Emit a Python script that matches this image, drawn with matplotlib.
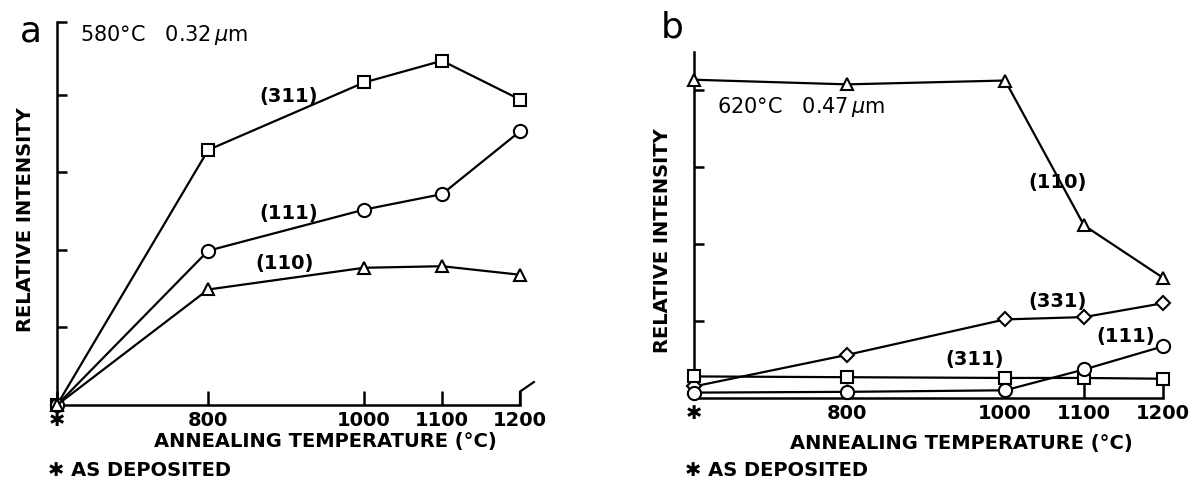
import matplotlib
matplotlib.use("Agg")
import matplotlib.pyplot as plt
from matplotlib.lines import Line2D

plt.rcParams['font.family'] = ['DejaVu Sans']

# ---- data ----
AD = 606  # position used for "as deposited"
temps = [AD, 800, 1000, 1100, 1200]
xtick_labels = ['\u2731', '800', '1000', '1100', '1200']

# panel a (580°C, 0.32 µm)
a_311 = [0, 3.29, 4.16, 4.44, 3.94]
a_111 = [0, 1.99, 2.52, 2.72, 3.53]
a_110 = [0, 1.49, 1.77, 1.79, 1.68]

# panel b (620°C, 0.47 µm)
b_110 = [4.13, 4.07, 4.12, 2.24, 1.56]
b_331 = [0.15, 0.56, 1.02, 1.05, 1.23]
b_311 = [0.28, 0.27, 0.26, 0.26, 0.25]
b_111 = [0.07, 0.08, 0.10, 0.37, 0.67]

fig = plt.figure(figsize=(11.98, 4.83), dpi=100)
W, H = 1198, 483

def axes_px(x0, x1, ytop, ybot):
    return fig.add_axes([x0 / W, 1 - ybot / H, (x1 - x0) / W, (ybot - ytop) / H])

ax_a = axes_px(57, 520, 22, 405)
ax_b = axes_px(694, 1163, 52, 398)

lw = 1.6
mstyle = dict(color='black', lw=lw, markerfacecolor='white', markeredgecolor='black',
              markeredgewidth=1.5, clip_on=False, zorder=3)

txt = dict(fontsize=14, fontweight='bold', color='black')

def style_axes(ax, ytop, yticks, ylab_x, ylab_y):
    ax.set_xlim(AD, 1200)
    ax.set_ylim(0, ytop)
    for s in ['top', 'right']:
        ax.spines[s].set_visible(False)
    for s in ['left', 'bottom']:
        ax.spines[s].set_linewidth(1.8)
    ax.set_xticks(temps)
    ax.set_xticklabels(xtick_labels, **txt)
    ax.set_yticks(yticks)
    ax.set_yticklabels([])
    ax.tick_params(axis='y', direction='in', length=7, width=1.8)
    ax.tick_params(axis='x', direction='in', length=10, width=1.8, pad=4)
    ax.set_ylabel('RELATIVE INTENSITY', **txt)
    ax.yaxis.set_label_coords(ylab_x, ylab_y)

# ---- panel a ----
ax = ax_a
ax.plot(temps, a_311, marker='s', markersize=9, **mstyle)
ax.plot(temps, a_111, marker='o', markersize=9.5, **mstyle)
ax.plot(temps, a_110, marker='^', markersize=9, **mstyle)
style_axes(ax, 4.94, [1, 2, 3, 4, 4.94], -0.047, 0.485)
ax.text(866, 3.98, '(311)', ha='left', va='center', **txt)
ax.text(866, 2.47, '(111)', ha='left', va='center', **txt)
ax.text(861, 1.83, '(110)', ha='left', va='center', **txt)
ax.text(635, 4.77, '580°C   0.32$\\,\\mu$m', ha='left', va='center', fontsize=15, color='black')
ax.add_line(Line2D([1.0, 1.0, 1.03], [0.0, 0.035, 0.06], transform=ax.transAxes,
                   color='black', lw=1.6, clip_on=False))
fig.text(20 / W, 1 - 32 / H, 'a', fontsize=26, va='center', ha='left')
fig.text(325 / W, 1 - 441 / H, 'ANNEALING TEMPERATURE (°C)', va='center', ha='center', **txt)
fig.text(48 / W, 1 - 470 / H, '\u2731 AS DEPOSITED', va='center', ha='left', **txt)

# ---- panel b ----
ax = ax_b
ax.plot(temps, b_110, marker='^', markersize=9, **mstyle)
ax.plot(temps, b_331, marker='D', markersize=7.5, **mstyle)
ax.plot(temps, b_311, marker='s', markersize=9, **mstyle)
ax.plot(temps, b_111, marker='o', markersize=9.5, **mstyle)
style_axes(ax, 4.49, [1, 2, 3, 4], -0.046, 0.454)
ax.text(1030, 2.80, '(110)', ha='left', va='center', **txt)
ax.text(1030, 1.25, '(331)', ha='left', va='center', **txt)
ax.text(1116, 0.80, '(111)', ha='left', va='center', **txt)
ax.text(924, 0.50, '(311)', ha='left', va='center', **txt)
ax.text(635, 3.78, '620°C   0.47$\\,\\mu$m', ha='left', va='center', fontsize=15, color='black')
fig.text(661 / W, 1 - 27 / H, 'b', fontsize=26, va='center', ha='left')
fig.text(961 / W, 1 - 443 / H, 'ANNEALING TEMPERATURE (°C)', va='center', ha='center', **txt)
fig.text(685 / W, 1 - 470 / H, '\u2731 AS DEPOSITED', va='center', ha='left', **txt)

fig.savefig('out.png', dpi=100, facecolor='white')
